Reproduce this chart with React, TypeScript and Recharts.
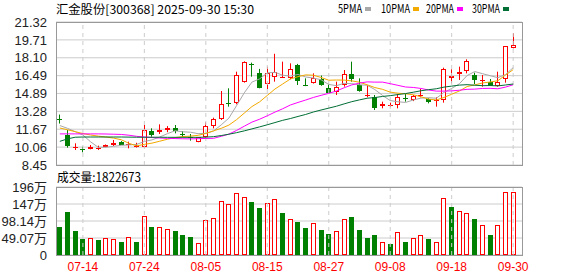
import React from 'react';
import { ComposedChart, Bar, Line, XAxis, YAxis, CartesianGrid, ReferenceLine } from 'recharts';

const dates = [
  '07-09', '07-10', '07-11', '07-14', '07-15', '07-16', '07-17', '07-18', '07-21', '07-22',
  '07-23', '07-24', '07-25', '07-28', '07-29', '07-30', '07-31', '08-01', '08-04', '08-05',
  '08-06', '08-07', '08-08', '08-11', '08-12', '08-13', '08-14', '08-15', '08-18', '08-19',
  '08-20', '08-21', '08-22', '08-25', '08-26', '08-27', '08-28', '08-29', '09-01', '09-02',
  '09-03', '09-04', '09-05', '09-08', '09-09', '09-10', '09-11', '09-12', '09-15', '09-16',
  '09-17', '09-18', '09-19', '09-22', '09-23', '09-24', '09-25', '09-26', '09-29', '09-30',
];

const opens = [
  12.60, 11.15, 10.05, 9.88, 9.86, 9.98, 10.07, 10.25, 10.52, 10.24,
  10.05, 10.04, 11.51, 11.39, 11.60, 11.75, 11.20, 11.00, 10.55, 10.95,
  11.96, 12.56, 14.05, 14.00, 15.89, 17.50, 16.76, 15.74, 16.34, 16.35,
  16.25, 17.45, 15.65, 15.80, 16.20, 15.40, 15.05, 15.65, 16.64, 15.65,
  14.72, 14.60, 13.76, 13.83, 13.85, 14.50, 14.30, 14.73, 14.39, 14.25,
  14.30, 16.25, 16.61, 16.94, 16.55, 16.06, 15.89, 15.59, 16.19, 18.95,
];
const highs = [
  12.99, 11.60, 10.40, 10.10, 10.25, 10.19, 10.30, 10.70, 10.60, 10.55,
  10.45, 12.05, 11.75, 12.11, 11.95, 12.05, 11.51, 11.24, 10.97, 12.29,
  12.71, 15.11, 15.35, 16.85, 17.78, 17.66, 17.10, 17.30, 18.46, 17.75,
  17.60, 17.55, 16.25, 16.70, 16.50, 15.75, 15.95, 17.00, 17.75, 16.25,
  15.65, 14.75, 14.15, 14.06, 14.84, 14.84, 14.75, 15.29, 14.45, 14.54,
  17.21, 17.06, 17.30, 17.96, 16.76, 16.55, 16.19, 16.85, 19.16, 20.30,
];
const lows = [
  12.18, 10.01, 9.80, 9.59, 9.86, 9.80, 10.05, 10.16, 10.25, 9.95,
  10.02, 10.01, 11.00, 11.24, 11.40, 11.30, 10.94, 10.64, 10.50, 10.85,
  11.75, 12.50, 13.70, 13.91, 15.86, 16.40, 15.35, 15.29, 15.95, 16.33,
  16.16, 15.65, 15.55, 15.78, 15.58, 14.96, 14.75, 15.50, 15.95, 15.05,
  14.54, 13.40, 13.55, 13.65, 13.55, 14.15, 14.20, 14.54, 14.00, 13.70,
  14.06, 15.80, 16.10, 16.70, 15.74, 15.50, 15.59, 15.50, 15.86, 18.95,
];
const closes = [
  12.52, 10.19, 10.08, 9.85, 10.07, 10.02, 10.25, 10.46, 10.28, 10.30,
  10.20, 11.60, 11.15, 11.60, 11.81, 11.51, 11.15, 10.93, 10.95, 11.96,
  12.56, 13.91, 13.98, 16.55, 17.69, 17.42, 15.35, 16.70, 16.79, 16.40,
  17.06, 16.04, 15.58, 16.31, 15.62, 14.96, 15.50, 16.61, 16.16, 15.14,
  14.76, 13.55, 13.94, 13.87, 14.60, 14.42, 14.66, 14.78, 14.09, 14.33,
  17.06, 16.46, 16.85, 17.81, 16.10, 16.12, 15.59, 15.92, 19.16, 19.25,
];
// close of the session before 07-09, only used for the colour of the first volume bar
const prevClose = 13.12;

const ma5 = [
  12.00, 11.75, 11.45, 11.15, 10.54, 10.04, 10.05, 10.13, 10.22, 10.26,
  10.30, 10.57, 10.71, 10.97, 11.27, 11.53, 11.44, 11.40, 11.27, 11.30,
  11.51, 12.06, 12.67, 13.79, 14.94, 15.91, 16.20, 16.74, 16.79, 16.53,
  16.46, 16.60, 16.37, 16.28, 16.12, 15.70, 15.59, 15.80, 15.77, 15.67,
  15.63, 15.24, 14.71, 14.25, 14.14, 14.08, 14.30, 14.47, 14.51, 14.46,
  14.98, 15.34, 15.76, 16.50, 16.86, 16.67, 16.49, 16.31, 16.58, 17.21,
];
const ma10 = [
  11.78, 11.62, 11.45, 11.28, 11.15, 11.05, 10.97, 10.87, 10.72, 10.40,
  10.17, 10.31, 10.42, 10.59, 10.77, 10.92, 11.01, 11.05, 11.12, 11.29,
  11.52, 11.75, 12.04, 12.53, 13.12, 13.71, 14.13, 14.71, 15.29, 15.74,
  16.19, 16.40, 16.56, 16.53, 16.33, 16.08, 16.10, 16.09, 16.02, 15.90,
  15.67, 15.42, 15.26, 15.01, 14.91, 14.86, 14.77, 14.59, 14.38, 14.30,
  14.53, 14.82, 15.11, 15.51, 15.66, 15.83, 15.92, 16.03, 16.54, 17.03,
];
const ma20 = [
  11.25, 11.25, 11.25, 11.25, 11.25, 11.25, 11.24, 11.22, 11.20, 11.13,
  11.03, 10.97, 10.92, 10.88, 10.85, 10.83, 10.81, 10.80, 10.82, 10.84,
  10.85, 11.03, 11.23, 11.56, 11.94, 12.31, 12.57, 12.88, 13.21, 13.51,
  13.85, 14.08, 14.30, 14.53, 14.72, 14.90, 15.11, 15.40, 15.66, 15.82,
  15.93, 15.91, 15.91, 15.77, 15.62, 15.47, 15.43, 15.34, 15.20, 15.10,
  15.10, 15.12, 15.18, 15.26, 15.28, 15.34, 15.35, 15.31, 15.46, 15.67,
];
const ma30 = [
  10.58, 10.80, 10.95, 10.97, 10.97, 10.97, 10.97, 10.97, 10.97, 10.96,
  10.95, 10.95, 10.95, 10.95, 10.94, 10.94, 10.94, 10.94, 10.94, 10.96,
  11.00, 11.10, 11.22, 11.36, 11.52, 11.70, 11.88, 12.07, 12.27, 12.47,
  12.63, 12.82, 13.00, 13.22, 13.40, 13.57, 13.74, 13.95, 14.15, 14.31,
  14.46, 14.52, 14.62, 14.69, 14.79, 14.88, 15.00, 15.13, 15.23, 15.31,
  15.46, 15.55, 15.64, 15.68, 15.63, 15.59, 15.60, 15.57, 15.65, 15.74,
];

// volume in 万 shares
const volumes = [
  80.5, 123.6, 69, 46, 48, 43, 48, 45, 37.4, 51,
  37, 114, 80.5, 79.5, 74.7, 69, 57.5, 51.7, 33.5, 100.6,
  108, 155, 148.5, 180, 168.6, 152, 135, 149.4, 163, 120.7,
  105, 94.8, 77.6, 91, 71.8, 60.3, 69, 102.6, 109, 71.8,
  48.8, 57.5, 36.5, 31.6, 65, 37.4, 48, 56.6, 46, 36.5,
  165.7, 138, 126.4, 122.6, 103.5, 85.3, 57.5, 88, 181, 182.27,
];

const priceTicks = [8.45, 10.06, 11.67, 13.28, 14.89, 16.49, 18.10, 19.71, 21.32];
const volTicks = [0, 49.07, 98.14, 147.21, 196.28];
const volTickLabels = ['0', '49.07万', '98.14万', '147万', '196万'];
const labelDates = ['07-14', '07-24', '08-05', '08-15', '08-27', '09-08', '09-18', '09-30'];

const UP = '#ff0000';
const DOWN = '#008000';
const GRID = '#cccccc';
const AXIS_FONT = '"Liberation Sans", Arial, "Noto Sans CJK SC", sans-serif';
const CJK_FONT = '"Noto Sans CJK SC", "Liberation Sans", sans-serif';

const data = dates.map((date, i) => ({
  date,
  open: opens[i],
  high: highs[i],
  low: lows[i],
  close: closes[i],
  range: [lows[i], highs[i]],
  ma5: ma5[i],
  ma10: ma10[i],
  ma20: ma20[i],
  ma30: ma30[i],
  vol: volumes[i],
  volUp: closes[i] >= (i > 0 ? closes[i - 1] : prevClose),
}));

function Candle(props: any) {
  const { x, y, width, height, payload } = props;
  const { open, close, high, low } = payload;
  const span = high - low;
  const toY = (p: number) => (span > 0 ? y + ((high - p) / span) * height : y);
  const cx = Math.floor(x + width / 2) + 0.5;
  const up = close >= open;
  const color = up ? UP : DOWN;
  const top = Math.round(toY(Math.max(open, close)));
  const bot = Math.round(toY(Math.min(open, close)));
  const bh = Math.max(1, bot - top);
  return (
    <g>
      <line x1={cx} x2={cx} y1={y} y2={y + height} stroke={color} strokeWidth={1} />
      {up ? (
        bh > 2 ? (
          <rect x={cx - 2} y={top + 0.5} width={4} height={bh - 1} fill="#fff" stroke={color} strokeWidth={1} />
        ) : (
          <rect x={cx - 2.5} y={top} width={5} height={Math.max(1, bh)} fill={color} />
        )
      ) : (
        <rect x={cx - 2.5} y={top} width={5} height={bh} fill={color} />
      )}
    </g>
  );
}

function VolBar(props: any) {
  const { x, y, width, height, payload } = props;
  const cx = Math.floor(x + width / 2) + 0.5;
  const top = Math.round(y);
  const h = Math.round(y + height) - top;
  if (payload.volUp) {
    return <rect x={cx - 2} y={top + 0.5} width={4} height={h - 1} fill="#fff" stroke={UP} strokeWidth={1} />;
  }
  return <rect x={cx - 2.5} y={top} width={5} height={h} fill={DOWN} />;
}

const legendItems = [
  { label: '5PMA', color: '#a8a8a8', x: 338, w: 24, sq: 365 },
  { label: '10PMA', color: '#f2a900', x: 381, w: 29, sq: 413 },
  { label: '20PMA', color: '#ff00ff', x: 426, w: 28, sq: 457 },
  { label: '30PMA', color: '#006e35', x: 472, w: 28, sq: 503 },
];

export default function App() {
  return (
    <div style={{ position: 'absolute', left: 0, top: 0, width: 578, height: 276, background: '#fff', overflow: 'hidden' }}>
      <div style={{ position: 'absolute', left: 0, top: 0 }}>
        <ComposedChart width={578} height={180} data={data} margin={{ top: 22, right: 56, bottom: 15, left: 8 }}>
          <CartesianGrid vertical={false} stroke={GRID} />
          <XAxis dataKey="date" hide padding={{ left: 0, right: 5 }} />
          <YAxis
            type="number"
            domain={[8.45, 21.32]}
            ticks={priceTicks}
            interval={0}
            allowDataOverflow
            width={48}
            axisLine={false}
            tickLine={false}
            tickMargin={3}
            tick={{ fill: '#222', fontSize: 13, fontFamily: AXIS_FONT }}
            tickFormatter={(v: number) => v.toFixed(2)}
          />
          {labelDates.map((d) => (
            <ReferenceLine key={d} x={d} stroke={GRID} strokeDasharray="4 4" />
          ))}
          <Line dataKey="ma5" stroke="#a8a8a8" strokeWidth={1} dot={false} isAnimationActive={false} />
          <Line dataKey="ma10" stroke="#f2a900" strokeWidth={1} dot={false} isAnimationActive={false} />
          <Line dataKey="ma20" stroke="#ff00ff" strokeWidth={1} dot={false} isAnimationActive={false} />
          <Line dataKey="ma30" stroke="#006e35" strokeWidth={1} dot={false} isAnimationActive={false} />
          <Bar dataKey="range" shape={<Candle />} isAnimationActive={false} />
        </ComposedChart>
      </div>
      <div style={{ position: 'absolute', left: 0, top: 170 }}>
        <ComposedChart width={578} height={106} data={data} margin={{ top: 17, right: 56, bottom: 5, left: 8 }}>
          <CartesianGrid vertical={false} stroke={GRID} />
          <XAxis
            dataKey="date"
            ticks={labelDates}
            interval={0}
            padding={{ left: 0, right: 5 }}
            height={16}
            axisLine={false}
            tickLine={false}
            tickMargin={1}
            tick={{ fill: UP, fontSize: 12, fontFamily: AXIS_FONT }}
          />
          <YAxis
            type="number"
            domain={[0, 196.28]}
            ticks={volTicks}
            interval={0}
            allowDataOverflow
            width={48}
            axisLine={false}
            tickLine={false}
            tickMargin={3}
            tick={{ fill: '#222', fontSize: 13, fontFamily: AXIS_FONT }}
            tickFormatter={(v: number) => volTickLabels[volTicks.indexOf(v)] ?? String(v)}
          />
          {labelDates.map((d) => (
            <ReferenceLine key={d} x={d} stroke={GRID} strokeDasharray="4 4" />
          ))}
          <Bar dataKey="vol" shape={<VolBar />} isAnimationActive={false} />
        </ComposedChart>
      </div>
      {/* panel frames */}
      <div style={{ position: 'absolute', left: 56, top: 22, width: 467, height: 144, border: '1px solid #999', boxSizing: 'border-box', pointerEvents: 'none' }} />
      <div style={{ position: 'absolute', left: 56, top: 187, width: 467, height: 69, border: '1px solid #999', boxSizing: 'border-box', pointerEvents: 'none' }} />
      <svg width={578} height={276} style={{ position: 'absolute', left: 0, top: 0, pointerEvents: 'none' }}>
        <text x={56} y={14} fontSize={12} fontFamily={CJK_FONT} fill="#000" textLength={198} lengthAdjust="spacingAndGlyphs">
          汇金股份[300368] 2025-09-30 15:30
        </text>
        {legendItems.map((it) => (
          <g key={it.label}>
            <text x={it.x} y={13} fontSize={12} fontFamily={CJK_FONT} fill="#000" textLength={it.w} lengthAdjust="spacingAndGlyphs">
              {it.label}
            </text>
            <rect x={it.sq} y={7} width={6} height={4} fill={it.color} />
          </g>
        ))}
        <text x={57} y={182} fontSize={12.5} fontFamily={CJK_FONT} fill="#000" textLength={84} lengthAdjust="spacingAndGlyphs">
          成交量:1822673
        </text>
      </svg>
    </div>
  );
}
